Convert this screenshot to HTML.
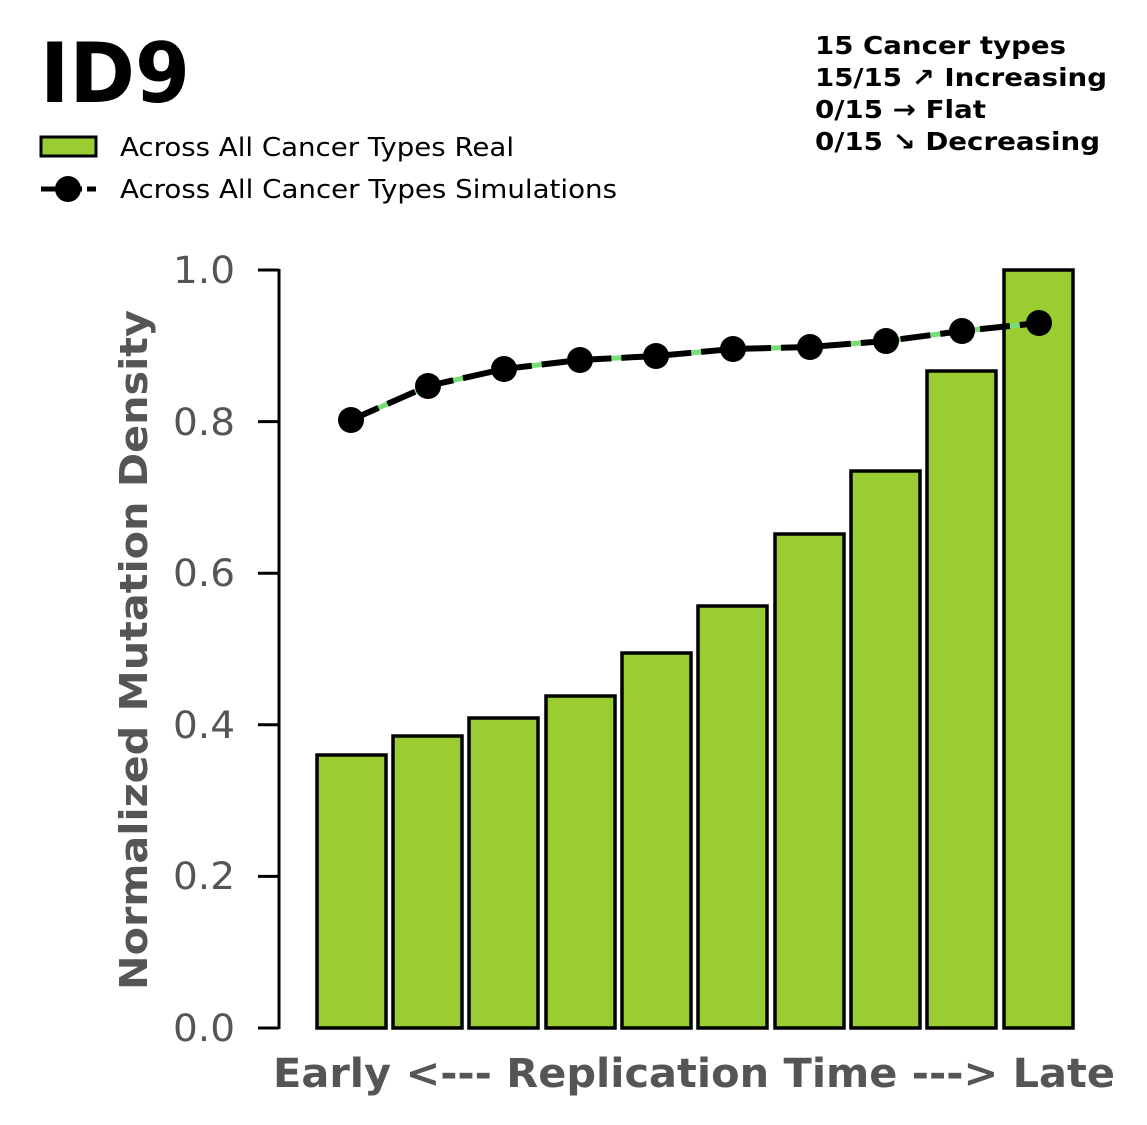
<!DOCTYPE html>
<html><head><meta charset="utf-8"><style>
html,body{margin:0;padding:0;background:#fff;}
svg{display:block;font-family:"DejaVu Sans","Liberation Sans",sans-serif;}
</style></head><body>
<svg width="1147" height="1125" viewBox="0 0 1147 1125" xmlns="http://www.w3.org/2000/svg">
<rect width="1147" height="1125" fill="#fff"/>
<text x="40" y="102" font-size="83" font-weight="bold" fill="#000" textLength="150" lengthAdjust="spacingAndGlyphs">ID9</text>
<g font-size="25" font-weight="bold" fill="#000">
<text x="815" y="54" textLength="251" lengthAdjust="spacingAndGlyphs">15 Cancer types</text>
<text x="815" y="86" textLength="292" lengthAdjust="spacingAndGlyphs">15/15 ↗ Increasing</text>
<text x="815" y="118" textLength="171" lengthAdjust="spacingAndGlyphs">0/15 → Flat</text>
<text x="815" y="150" textLength="285" lengthAdjust="spacingAndGlyphs">0/15 ↘ Decreasing</text>
</g>
<rect x="41" y="137" width="55" height="19" fill="#9acd32" stroke="#000" stroke-width="3"/>
<text x="120" y="156" font-size="26" fill="#000" textLength="394" lengthAdjust="spacingAndGlyphs">Across All Cancer Types Real</text>
<line x1="41" y1="189" x2="96" y2="189" stroke="#000" stroke-width="5" stroke-dasharray="18,5"/>
<circle cx="68" cy="189" r="13" fill="#000"/>
<text x="120" y="198" font-size="26" fill="#000" textLength="497" lengthAdjust="spacingAndGlyphs">Across All Cancer Types Simulations</text>
<line x1="279" y1="269" x2="279" y2="1029" stroke="#000" stroke-width="3"/>
<g stroke="#000" stroke-width="3">
<line x1="258" y1="1028" x2="279" y2="1028"/><line x1="258" y1="876.4" x2="279" y2="876.4"/>
<line x1="258" y1="724.8" x2="279" y2="724.8"/><line x1="258" y1="573.2" x2="279" y2="573.2"/>
<line x1="258" y1="421.6" x2="279" y2="421.6"/><line x1="258" y1="270" x2="279" y2="270"/>
</g>
<g font-size="37" fill="#555">
<text x="173" y="1041" textLength="62" lengthAdjust="spacingAndGlyphs">0.0</text>
<text x="173" y="889" textLength="62" lengthAdjust="spacingAndGlyphs">0.2</text>
<text x="173" y="738" textLength="62" lengthAdjust="spacingAndGlyphs">0.4</text>
<text x="173" y="586" textLength="62" lengthAdjust="spacingAndGlyphs">0.6</text>
<text x="173" y="435" textLength="62" lengthAdjust="spacingAndGlyphs">0.8</text>
<text x="173" y="283" textLength="62" lengthAdjust="spacingAndGlyphs">1.0</text>
</g>
<text transform="translate(147,650) rotate(-90)" font-size="38" font-weight="bold" fill="#555" text-anchor="middle" textLength="680" lengthAdjust="spacingAndGlyphs">Normalized Mutation Density</text>
<text x="273" y="1087" font-size="40" font-weight="bold" fill="#555" textLength="842" lengthAdjust="spacingAndGlyphs">Early &lt;--- Replication Time ---&gt; Late</text>
<g fill="#9acd32" stroke="#000" stroke-width="3.5">
<rect x="317" y="755" width="69" height="273"/>
<rect x="393" y="736" width="69" height="292"/>
<rect x="469" y="718" width="69" height="310"/>
<rect x="546" y="696" width="69" height="332"/>
<rect x="622" y="653" width="69" height="375"/>
<rect x="698" y="606" width="69" height="422"/>
<rect x="775" y="534" width="69" height="494"/>
<rect x="851" y="471" width="69" height="557"/>
<rect x="927" y="371" width="69" height="657"/>
<rect x="1004" y="270" width="69" height="758"/>
</g>
<polyline points="351,420 428,386 504,369 580,360 656,356 733,349 810,347 886,341 962,331 1039,323" fill="none" stroke="#77dd77" stroke-width="5"/>
<polyline points="351,420 428,386 504,369 580,360 656,356 733,349 810,347 886,341 962,331 1039,323" fill="none" stroke="#000" stroke-width="6" stroke-dasharray="30,10"/>
<g fill="#000">
<circle cx="351" cy="420" r="13"/><circle cx="428" cy="386" r="13"/><circle cx="504" cy="369" r="13"/>
<circle cx="580" cy="360" r="13"/><circle cx="656" cy="356" r="13"/><circle cx="733" cy="349" r="13"/>
<circle cx="810" cy="347" r="13"/><circle cx="886" cy="341" r="13"/><circle cx="962" cy="331" r="13"/>
<circle cx="1039" cy="323" r="13"/>
</g>
</svg>
</body></html>
